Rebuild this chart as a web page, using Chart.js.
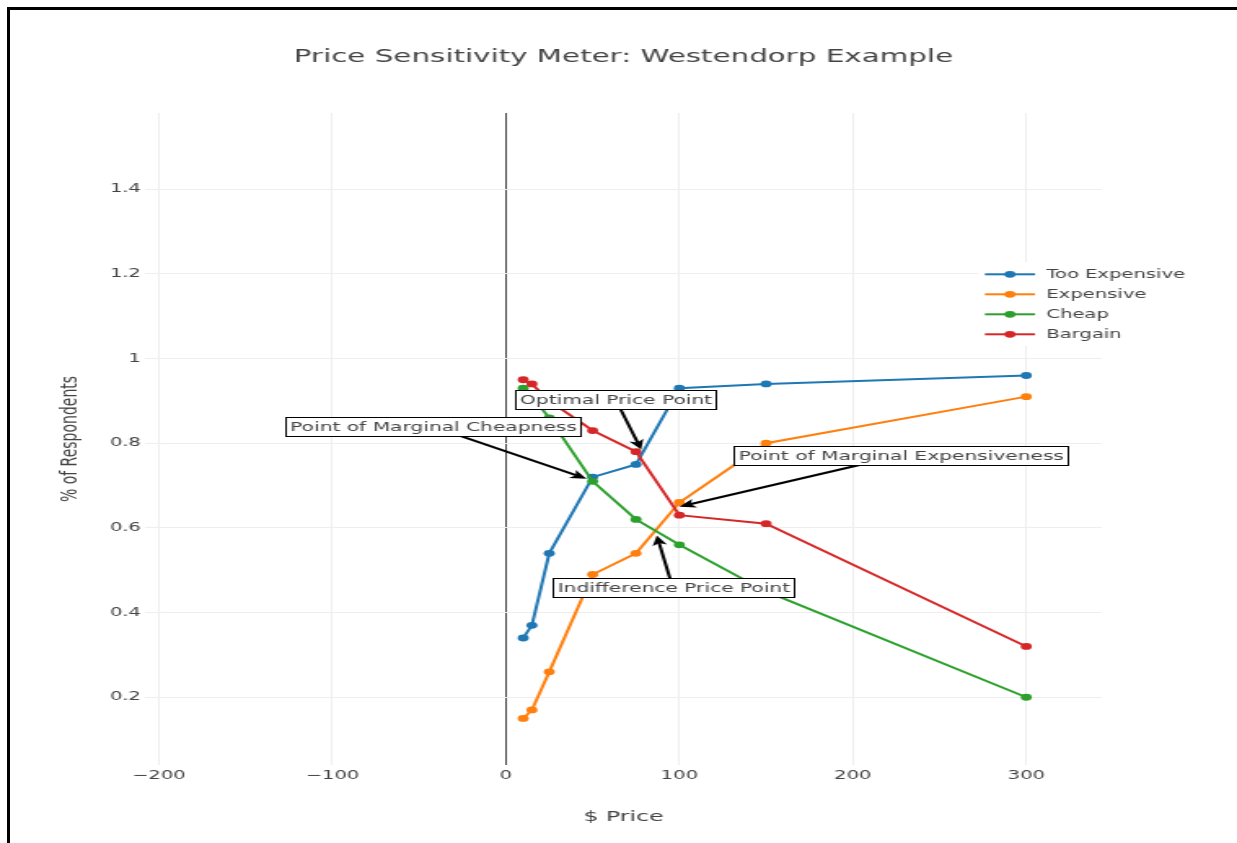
<!DOCTYPE html>
<html>
<head>
<meta charset="utf-8">
<script src="https://cdn.jsdelivr.net/npm/chart.js@4/dist/chart.umd.min.js"></script>
<style>
  html, body { margin: 0; padding: 0; background: #fff; overflow: hidden; width: 1237px; height: 843px; }
  #wrap { position: absolute; left: 0; top: 0; width: 759px; height: 843px; transform: scaleX(1.6298); transform-origin: 0 0; }
  #ftop { position: absolute; left: 7px; top: 7px; width: 1300px; height: 3px; background: #000; }
  #fleft { position: absolute; left: 7px; top: 7px; width: 3px; height: 900px; background: #000; }
</style>
</head>
<body>
<div id="wrap"><canvas id="c" width="759" height="843"></canvas></div>
<div id="ftop"></div>
<div id="fleft"></div>
<script>
// ---- data ----
const prices = [10, 15, 25, 50, 75, 100, 150, 300];
const seriesNames = ['Too Expensive', 'Expensive', 'Cheap', 'Bargain'];
const tooExpensive = [0.34, 0.37, 0.54, 0.72, 0.75, 0.93, 0.94, 0.96];
const expensive    = [0.15, 0.17, 0.26, 0.49, 0.54, 0.66, 0.80, 0.91];
const cheap        = [0.93, 0.91, 0.86, 0.71, 0.62, 0.56, 0.45, 0.20];
const bargain      = [0.95, 0.94, 0.90, 0.83, 0.78, 0.63, 0.61, 0.32];

const annLabels = ['Optimal Price Point', 'Point of Marginal Cheapness', 'Point of Marginal Expensiveness', 'Indifference Price Point'];
const annX = [78, 46.5, 100, 87];
const annY = [0.785, 0.716, 0.65, 0.582];

// ---- styles ----
const colors = ['#1f77b4', '#ff7f0e', '#2ca02c', '#d62728'];
const annOffsets = [[-15.8, -50.3], [-94.7, -52.5], [135.6, -51.2], [9.8, 52]];
const FONT = '"DejaVu Sans", Verdana, sans-serif';
const TXT = '#444';

const seriesValues = [tooExpensive, expensive, cheap, bargain];
const datasets = seriesValues.map((vals, i) => ({
  label: seriesNames[i],
  data: prices.map((p, j) => ({ x: p, y: vals[j] })),
  borderColor: colors[i],
  backgroundColor: colors[i],
  pointBackgroundColor: colors[i],
  pointBorderColor: colors[i],
  pointBorderWidth: 0,
  pointRadius: 3.4,
  borderWidth: 2,
  tension: 0,
  order: 3 - i
}));

const annoPlugin = {
  id: 'annos',
  afterDatasetsDraw(chart) {
    const { ctx } = chart;
    const xs = chart.scales.x, ys = chart.scales.y;
    ctx.save();
    ctx.font = '12.4px ' + FONT;
    annLabels.forEach((t, i) => {
      const tx = xs.getPixelForValue(annX[i]);
      const ty = ys.getPixelForValue(annY[i]);
      const cx = tx + annOffsets[i][0];
      const cy = ty + annOffsets[i][1];
      const dx = tx - cx, dy = ty - cy;
      const len = Math.hypot(dx, dy);
      const ux = dx / len, uy = dy / len;
      const hl = 10, hw = 4.5;
      ctx.strokeStyle = '#000';
      ctx.lineWidth = 2;
      ctx.beginPath();
      ctx.moveTo(cx, cy);
      ctx.lineTo(tx - ux * hl * 0.7, ty - uy * hl * 0.7);
      ctx.stroke();
      ctx.fillStyle = '#000';
      ctx.beginPath();
      ctx.moveTo(tx, ty);
      ctx.lineTo(tx - ux * hl - uy * hw, ty - uy * hl + ux * hw);
      ctx.lineTo(tx - ux * hl * 0.75, ty - uy * hl * 0.75);
      ctx.lineTo(tx - ux * hl + uy * hw, ty - uy * hl - ux * hw);
      ctx.closePath();
      ctx.fill();
      const tw = ctx.measureText(t).width;
      const w = Math.round(tw + 5), h = 19;
      const bx = Math.round(cx - w / 2), by = Math.round(cy - h / 2);
      ctx.fillStyle = '#fff';
      ctx.fillRect(bx, by, w, h);
      ctx.lineWidth = 1;
      ctx.strokeStyle = '#000';
      ctx.strokeRect(bx + 0.5, by + 0.5, w, h);
      ctx.fillStyle = TXT;
      ctx.textAlign = 'center';
      ctx.textBaseline = 'middle';
      ctx.fillText(t, bx + w / 2 + 0.5, by + h / 2 + 1);
    });
    ctx.restore();
  }
};

const legendPlugin = {
  id: 'customLegend',
  afterDraw(chart) {
    const { ctx } = chart;
    ctx.save();
    ctx.fillStyle = '#fff';
    ctx.fillRect(600, 262, 150, 84);
    chart.data.datasets.forEach((ds, i) => {
      const yy = 274.3 + 20 * i;
      ctx.strokeStyle = ds.borderColor;
      ctx.lineWidth = 2;
      ctx.beginPath();
      ctx.moveTo(604.3, yy);
      ctx.lineTo(635, yy);
      ctx.stroke();
      ctx.fillStyle = ds.borderColor;
      ctx.beginPath();
      ctx.arc(619.7, yy, 3.4, 0, Math.PI * 2);
      ctx.fill();
      ctx.fillStyle = TXT;
      ctx.font = '12px ' + FONT;
      ctx.textAlign = 'left';
      ctx.textBaseline = 'middle';
      ctx.fillText(ds.label, 642, yy + 0.5);
    });
    ctx.restore();
  }
};

Chart.defaults.font.family = FONT;
Chart.defaults.color = TXT;

new Chart(document.getElementById('c'), {
  type: 'line',
  data: { datasets },
  plugins: [annoPlugin, legendPlugin],
  options: {
    responsive: false,
    animation: false,
    devicePixelRatio: 1,
    layout: { padding: { left: 0, right: 83, top: 0, bottom: 0 } },
    plugins: {
      legend: { display: false },
      tooltip: { enabled: false },
      title: {
        display: true,
        text: 'Price Sensitivity Meter: Westendorp Example',
        fullSize: false,
        color: TXT,
        font: { size: 18, weight: 'normal', family: FONT },
        padding: { top: 47, bottom: 44.4 }
      }
    },
    scales: {
      x: {
        type: 'linear',
        min: -208,
        max: 343.5,
        afterFit(s) { s.height = 78; },
        border: { display: false },
        grid: {
          drawTicks: false,
          color: c => (c.tick && c.tick.value === 0) ? '#444' : '#eee',
          lineWidth: 1
        },
        ticks: {
          stepSize: 100,
          includeBounds: false,
          padding: 4,
          color: TXT,
          font: { size: 12 },
          maxRotation: 0,
          callback: v => v < 0 ? '\u2212' + Math.abs(v) : String(v)
        },
        title: {
          display: true,
          text: '$ Price',
          color: TXT,
          font: { size: 14.5 },
          padding: { top: 0, bottom: 17.5 }
        }
      },
      y: {
        type: 'linear',
        min: 0.04,
        max: 1.58,
        afterFit(s) { s.width = 89; },
        border: { display: false },
        grid: { drawTicks: false, color: '#eee', lineWidth: 1 },
        ticks: {
          stepSize: 0.2,
          includeBounds: false,
          padding: 2.5,
          color: TXT,
          font: { size: 12 },
          callback: v => String(Math.round(v * 10) / 10)
        },
        title: {
          display: true,
          text: '% of Respondents',
          color: TXT,
          font: { size: 14 },
          padding: { top: 35, bottom: 0 }
        }
      }
    }
  }
});
</script>
</body>
</html>
